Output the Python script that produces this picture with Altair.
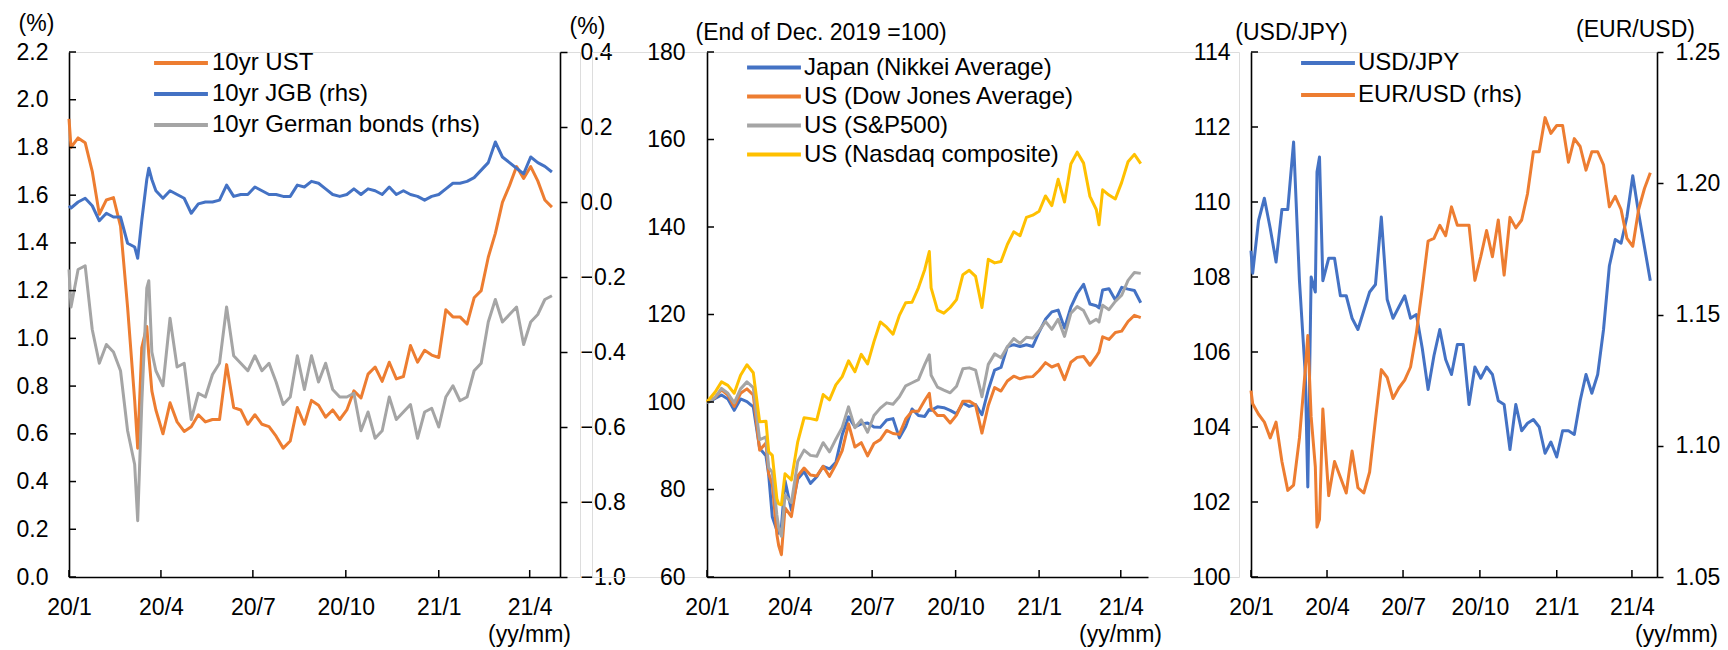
import altair as alt
import pandas as pd

# ---------------- data ----------------
DATES = [
    "2020-01-01",
    "2020-01-03", "2020-01-10", "2020-01-17", "2020-01-24", "2020-01-31",
    "2020-02-07", "2020-02-14", "2020-02-21", "2020-02-28",
    "2020-03-06", "2020-03-09", "2020-03-13", "2020-03-18", "2020-03-20", "2020-03-23", "2020-03-27",
    "2020-04-03", "2020-04-10", "2020-04-17", "2020-04-24",
    "2020-05-01", "2020-05-08", "2020-05-15", "2020-05-22", "2020-05-29",
    "2020-06-05", "2020-06-12", "2020-06-19", "2020-06-26",
    "2020-07-03", "2020-07-10", "2020-07-17", "2020-07-24", "2020-07-31",
    "2020-08-07", "2020-08-14", "2020-08-21", "2020-08-28",
    "2020-09-04", "2020-09-11", "2020-09-18", "2020-09-25",
    "2020-10-02", "2020-10-09", "2020-10-16", "2020-10-23", "2020-10-30",
    "2020-11-06", "2020-11-13", "2020-11-20", "2020-11-27",
    "2020-12-04", "2020-12-11", "2020-12-18", "2020-12-25",
    "2021-01-01", "2021-01-08", "2021-01-15", "2021-01-22", "2021-01-29",
    "2021-02-05", "2021-02-12", "2021-02-19", "2021-02-26",
    "2021-03-05", "2021-03-12", "2021-03-19", "2021-03-26",
    "2021-04-02", "2021-04-09", "2021-04-16", "2021-04-23",
]

UST = [
    1.92,
    1.80, 1.84, 1.82, 1.70, 1.52,
    1.58, 1.59, 1.47, 1.13,
    0.74, 0.54, 0.96, 1.05, 0.93, 0.78, 0.70,
    0.60, 0.73, 0.65, 0.61,
    0.63, 0.68, 0.65, 0.66, 0.66,
    0.89, 0.71, 0.70, 0.64,
    0.68, 0.64, 0.63, 0.59, 0.54,
    0.57, 0.71, 0.64, 0.74,
    0.72, 0.67, 0.70, 0.66,
    0.70, 0.78, 0.75, 0.85, 0.88,
    0.82, 0.90, 0.83, 0.84,
    0.97, 0.90, 0.95, 0.93,
    0.92, 1.12, 1.09, 1.09, 1.06,
    1.17, 1.20, 1.34, 1.44,
    1.57, 1.64, 1.72, 1.67,
    1.72, 1.66, 1.58, 1.55,
]
JGB = [
    -0.01,
    -0.016, 0.00, 0.01, -0.01, -0.05,
    -0.03, -0.04, -0.04, -0.11,
    -0.12, -0.15, -0.05, 0.06, 0.09, 0.06, 0.03,
    0.01, 0.03, 0.02, 0.01,
    -0.03, -0.005, 0.00, 0.00, 0.005,
    0.045, 0.015, 0.02, 0.02,
    0.04, 0.03, 0.02, 0.02, 0.015,
    0.015, 0.045, 0.04, 0.055,
    0.05, 0.035, 0.02, 0.015,
    0.02, 0.035, 0.02, 0.035, 0.03,
    0.02, 0.04, 0.02, 0.03,
    0.02, 0.015, 0.005, 0.015,
    0.02, 0.035, 0.05, 0.05, 0.055,
    0.065, 0.085, 0.105, 0.16,
    0.12, 0.105, 0.09, 0.075,
    0.12, 0.105, 0.095, 0.08,
]
BUND = [
    -0.18,
    -0.28, -0.18, -0.17, -0.34, -0.43,
    -0.38, -0.40, -0.45, -0.61,
    -0.70, -0.85, -0.54, -0.23, -0.21, -0.40, -0.45,
    -0.49, -0.31, -0.44, -0.43,
    -0.58, -0.51, -0.52, -0.46, -0.43,
    -0.28, -0.41, -0.43, -0.45,
    -0.41, -0.45, -0.43, -0.48, -0.54,
    -0.52, -0.41, -0.50, -0.41,
    -0.48, -0.43, -0.50, -0.52,
    -0.52, -0.51, -0.61, -0.56, -0.63,
    -0.61, -0.52, -0.58, -0.56,
    -0.54, -0.63, -0.56, -0.55,
    -0.60, -0.52, -0.49, -0.53, -0.52,
    -0.45, -0.43, -0.32, -0.26,
    -0.32, -0.30, -0.28, -0.38,
    -0.32, -0.30, -0.26, -0.25,
]

DATES_EQ = DATES[:39] + ["2020-09-02"] + DATES[39:66] + ["2021-03-08"] + DATES[66:]
NIKKEI = [
    100.0,
    100.0, 100.8, 101.6, 100.7, 98.1, 100.7, 100.1, 98.9, 89.4,
    87.7, 83.3, 73.7, 70.7, 70.0, 71.4, 82.0,
    75.3, 82.4, 84.1, 81.4,
    82.9, 85.3, 84.7, 86.2, 92.5,
    96.6, 94.3, 95.0, 95.2,
    94.3, 94.2, 95.9, 96.2, 91.8,
    94.4, 98.4, 96.9, 96.7,
    98.3,
    98.1, 98.9, 98.7, 98.1,
    97.3, 99.8, 99.0, 99.4, 97.1,
    102.8, 107.3, 107.9, 112.6,
    113.1, 112.7, 113.1, 112.7,
    116.0, 118.9, 120.6, 121.0, 116.9,
    121.7, 124.8, 126.9, 122.4,
    122.0,
    121.5,
    125.6, 125.9, 123.3,
    126.2, 125.8, 125.5, 122.7,
]
DOW = [
    100.0,
    100.3, 101.0, 102.8, 101.6, 99.0, 102.0, 103.0, 101.6, 89.0,
    90.6, 83.6, 81.2, 69.7, 67.2, 65.1, 75.8,
    73.8, 83.1, 84.9, 83.3,
    83.1, 85.3, 83.0, 85.7, 88.9,
    95.0, 89.7, 90.7, 87.7,
    90.5, 91.4, 93.5, 92.8, 92.6,
    96.1, 97.9, 97.9, 100.4,
    102.0,
    98.6, 96.9, 96.9, 95.2,
    97.0, 100.2, 100.2, 99.3, 92.9,
    99.2, 103.3, 102.5, 104.8,
    105.9, 105.3, 105.7, 105.8,
    107.2, 109.0, 108.0, 108.6, 105.1,
    109.1, 110.2, 110.4, 108.4,
    110.4,
    111.4,
    114.9, 114.3, 115.9,
    116.2, 118.4, 119.8, 119.3,
]
SP500 = [
    100.0,
    100.1, 101.1, 103.1, 102.0, 99.8, 103.0, 104.6, 103.3, 91.4,
    92.0, 85.0, 83.9, 74.2, 71.3, 69.3, 78.7,
    77.0, 86.4, 89.0, 87.8,
    87.6, 90.7, 88.6, 91.5, 94.2,
    98.9, 94.1, 95.9, 93.1,
    96.9, 98.6, 99.8, 99.5, 101.2,
    103.7, 104.4, 105.1, 108.6,
    110.8,
    106.1, 103.4, 102.7, 102.1,
    103.6, 107.6, 107.8, 107.3, 101.2,
    108.6, 111.0, 110.1, 112.6,
    114.5, 113.4, 114.8, 114.6,
    116.3, 118.4, 116.6, 118.9, 115.0,
    120.3, 121.8, 120.9, 118.0,
    118.9,
    118.3,
    122.1, 121.1, 123.0,
    124.4, 127.8, 129.6, 129.4,
]
NASDAQ = [
    100.0,
    100.5, 102.3, 104.6, 103.8, 102.0, 106.1, 108.5, 106.7, 95.5,
    95.6, 88.6, 87.8, 77.9, 76.7, 76.5, 83.6,
    82.2, 90.9, 96.4, 96.2,
    95.9, 101.7, 100.5, 103.9, 105.8,
    109.4, 106.9, 110.9, 108.7,
    113.8, 118.3, 117.1, 115.5, 119.8,
    122.7, 122.8, 126.1, 130.3,
    134.4,
    126.1, 121.0, 120.3, 121.6,
    123.4, 129.1, 130.1, 128.7, 121.6,
    132.6, 131.8, 132.1, 136.0,
    138.9, 138.0, 142.2, 142.7,
    143.6, 147.1, 144.9, 150.9, 145.7,
    154.4, 157.1, 154.6, 147.0,
    144.0,
    140.5,
    148.5, 147.3, 146.4,
    150.2, 154.9, 156.6, 154.5,
]

USDJPY = [
    108.7,
    108.1, 109.5, 110.1, 109.3, 108.4,
    109.8, 109.8, 111.6, 107.9,
    105.4, 102.4, 108.0, 107.6, 110.8, 111.2, 107.9,
    108.5, 108.5, 107.5, 107.5,
    106.9, 106.6, 107.1, 107.6, 107.8,
    109.6, 107.4, 106.9, 107.2,
    107.5, 106.9, 107.0, 106.1, 105.0,
    105.9, 106.6, 105.8, 105.4,
    106.2, 106.2, 104.6, 105.6,
    105.3, 105.6, 105.4, 104.7, 104.6,
    103.4, 104.6, 103.9, 104.1,
    104.2, 104.0, 103.3, 103.6,
    103.2, 103.9, 103.9, 103.8, 104.7,
    105.4, 104.9, 105.4, 106.6,
    108.3, 109.0, 108.9, 109.6,
    110.7, 109.7, 108.8, 107.9,
]
EURUSD = [
    1.121,
    1.116, 1.112, 1.109, 1.103, 1.109,
    1.094, 1.083, 1.085, 1.103,
    1.129, 1.142, 1.111, 1.092, 1.069, 1.072, 1.114,
    1.081, 1.094, 1.088, 1.082,
    1.098, 1.084, 1.082, 1.090, 1.110,
    1.129, 1.126, 1.118, 1.122,
    1.125, 1.130, 1.143, 1.160, 1.178,
    1.179, 1.184, 1.180, 1.191,
    1.184, 1.184, 1.184, 1.163,
    1.172, 1.182, 1.172, 1.186, 1.165,
    1.187, 1.183, 1.186, 1.196,
    1.212, 1.212, 1.225, 1.219,
    1.222, 1.222, 1.208, 1.217, 1.214,
    1.205, 1.212, 1.212, 1.207,
    1.191, 1.195, 1.190, 1.179,
    1.176, 1.190, 1.198, 1.204,
]

X_TICKS = ["2020-01-01", "2020-04-01", "2020-07-01", "2020-10-01", "2021-01-01", "2021-04-01"]
P1_LEFT_TICKS = [0.0, 0.2, 0.4, 0.6, 0.8, 1.0, 1.2, 1.4, 1.6, 1.8, 2.0, 2.2]
P1_RIGHT_TICKS = [-1.0, -0.8, -0.6, -0.4, -0.2, 0.0, 0.2, 0.4]
P2_TICKS = [60, 80, 100, 120, 140, 160, 180]
P3_LEFT_TICKS = [100, 102, 104, 106, 108, 110, 112, 114]
P3_RIGHT_TICKS = [1.05, 1.10, 1.15, 1.20, 1.25]

P1_NAMES = ["10yr UST", "10yr JGB (rhs)", "10yr German bonds (rhs)"]
P2_NAMES = ["Japan (Nikkei Average)", "US (Dow Jones Average)", "US (S&P500)", "US (Nasdaq composite)"]
P3_NAMES = ["USD/JPY", "EUR/USD (rhs)"]

ORANGE, BLUE, GRAY, GOLD = "#ED7D31", "#4472C4", "#A5A5A5", "#FFC000"

# ---------------- styling ----------------
FONT = "Liberation Sans"
FS = 23
LFS = 24
BLACK = "#000000"
H = 525
LW = 3
W1 = 491
E1 = 20                      # spare room right of panel 1's plot (its right axis sits inside the group)
SP = 12
OFF2, W2 = 147 - E1 - SP, 441
W2G = 1182 - W1 - E1 - 2 * SP
W3 = 406
TY = 57

x_domain = [alt.DateTime(year=2020, month=1, date=1), alt.DateTime(year=2021, month=5, date=1)]
x_values = [alt.DateTime(year=int(s[:4]), month=int(s[5:7]), date=int(s[8:10])) for s in X_TICKS]


def frame(dates, values, name):
    return pd.DataFrame({"date": pd.to_datetime(dates), "value": values, "series": name})


def x_encoding(title_x, rng=None):
    sk = dict(domain=x_domain, nice=False)
    if rng is not None:
        sk["range"] = rng
    return alt.X(
        "date:T",
        scale=alt.Scale(**sk),
        axis=alt.Axis(
            values=x_values, format="%y/%-m", labelFlush=False, labelOverlap=False,
            ticks=False, tickSize=0, labelPadding=19, grid=False,
            domainColor=BLACK, domainWidth=1.6,
            labelFont=FONT, labelFontSize=FS, labelColor=BLACK,
            title="(yy/mm)", titleFont=FONT, titleFontSize=FS, titleFontWeight="normal",
            titleColor=BLACK, titleX=title_x, titleY=TY, titleAlign="center", titleBaseline="middle",
        ),
    )


def y_encoding(domain, orient, values, fmt, pad, title, tx, ty, align="center", offset=None,
               tick_size=0):
    kw = dict(
        orient=orient, values=values, format=fmt, labelPadding=pad, grid=False,
        labelFlush=False, labelOverlap=False, domainColor=BLACK, domainWidth=1.6,
        labelFont=FONT, labelFontSize=FS, labelColor=BLACK,
        title=title, titleFont=FONT, titleFontSize=FS, titleFontWeight="normal", titleColor=BLACK,
        titleAngle=0, titleX=tx, titleY=ty, titleAlign=align, titleBaseline="middle",
    )
    if tick_size:
        kw.update(ticks=True, tickSize=tick_size, tickColor=BLACK, tickWidth=1.5)
    else:
        kw.update(ticks=False, tickSize=0)
    if offset is not None:
        kw["offset"] = offset
    return alt.Y("value:Q", scale=alt.Scale(domain=domain, nice=False, zero=False), axis=alt.Axis(**kw))


def color_encoding(names, colors, lx, ly, clip, loff):
    return alt.Color(
        "series:N",
        scale=alt.Scale(domain=names, range=colors),
        legend=alt.Legend(
            orient="none", legendX=lx, legendY=ly, title=None,
            symbolType="stroke", symbolSize=2900, symbolStrokeWidth=4,
            labelFont=FONT, labelFontSize=LFS, labelColor=BLACK, labelLimit=600,
            labelOffset=loff, clipHeight=clip, rowPadding=0, padding=0,
        ),
    )


def lines(df, x, y, color):
    return alt.Chart(df).mark_line(strokeWidth=LW, strokeJoin="round").encode(x=x, y=y, color=color)


def yticks(values, domain, x1, x2):
    df = pd.DataFrame({"v": values})
    return alt.Chart(df).mark_rule(color=BLACK, strokeWidth=1.5).encode(
        y=alt.Y("v:Q", scale=alt.Scale(domain=domain, nice=False, zero=False), axis=None),
        x=alt.value(x1), x2=alt.value(x2),
    )


def xticks(x):
    df = pd.DataFrame({"date": pd.to_datetime(X_TICKS)})
    return alt.Chart(df).mark_rule(color=BLACK, strokeWidth=1.5).encode(
        x=x, y=alt.value(H - 7), y2=alt.value(H)
    )


# ---------------- panel 1: bond yields ----------------
x1 = x_encoding(460, rng=[0, W1])
c1 = color_encoding(P1_NAMES, [ORANGE, BLUE, GRAY], 83, -4.5, 31, 2)
df1l = frame(DATES, UST, P1_NAMES[0])
df1r = pd.concat([frame(DATES, JGB, P1_NAMES[1]), frame(DATES, BUND, P1_NAMES[2])])
p1 = alt.layer(
    lines(df1l, x1, y_encoding([0, 2.2], "left", P1_LEFT_TICKS, ".1f", 21, "(%)", -33, -29), c1),
    lines(df1r, x1, y_encoding([-1.0, 0.4], "right", P1_RIGHT_TICKS, ".1f", 13, "(%)", 27, -26,
                               offset=-E1, tick_size=7), c1),
    yticks(P1_LEFT_TICKS, [0, 2.2], 0, 7),
    xticks(x1),
).resolve_scale(y="independent").properties(width=W1 + E1, height=H)

# ---------------- panel 2: stock indices ----------------
x2 = x_encoding(OFF2 + 413, rng=[OFF2, OFF2 + W2])
c2 = color_encoding(P2_NAMES, [BLUE, ORANGE, GRAY, GOLD], OFF2 + 38, 1.3, 28.6, 1)
df2 = pd.concat([
    frame(DATES_EQ, NIKKEI, P2_NAMES[0]),
    frame(DATES_EQ, DOW, P2_NAMES[1]),
    frame(DATES_EQ, SP500, P2_NAMES[2]),
    frame(DATES_EQ, NASDAQ, P2_NAMES[3]),
])
p2 = alt.layer(
    lines(df2, x2, y_encoding([60, 180], "left", P2_TICKS, "d", 22, "(End of Dec. 2019 =100)",
                              -12, -20, align="left", offset=-OFF2), c2),
    yticks(P2_TICKS, [60, 180], OFF2, OFF2 + 7),
    xticks(x2),
).resolve_scale(y="independent").properties(width=W2G, height=H)

# ---------------- panel 3: exchange rates ----------------
x3 = x_encoding(425)
c3 = color_encoding(P3_NAMES, [BLUE, ORANGE], 48, -4.75, 31.5, 1)
p3 = alt.layer(
    lines(frame(DATES, USDJPY, P3_NAMES[0]), x3,
          y_encoding([100, 114], "left", P3_LEFT_TICKS, "d", 21, "(USD/JPY)", 40, -20), c3),
    lines(frame(DATES, EURUSD, P3_NAMES[1]), x3,
          y_encoding([1.05, 1.25], "right", P3_RIGHT_TICKS, ".2f", 12, "(EUR/USD)", -22, -23,
                     tick_size=6), c3),
    yticks(P3_LEFT_TICKS, [100, 114], 0, 7),
    xticks(x3),
).resolve_scale(y="independent").properties(width=W3, height=H)

chart = alt.hconcat(p1, p2, p3, spacing=SP, bounds="flush").resolve_scale(
    color="independent"
).resolve_legend(color="independent").properties(
    padding={"left": 61, "top": 44, "right": 1712 - 61, "bottom": 598},
    autosize=alt.AutoSizeParams(type="none"),
    background="white",
).configure_view(stroke="transparent", strokeWidth=0).configure(font=FONT)

chart.save("out.html", embed_options={"renderer": "svg", "actions": False})
